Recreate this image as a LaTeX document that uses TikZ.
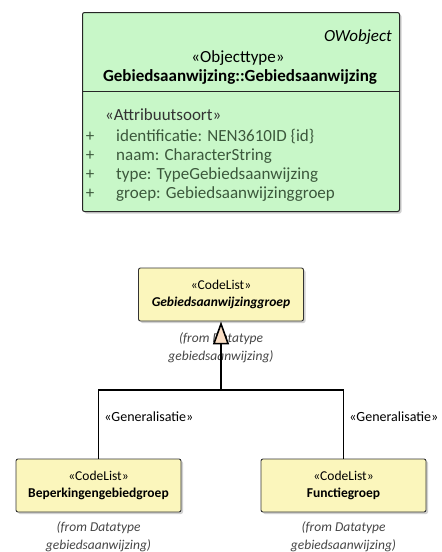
\documentclass[tikz,border=0pt]{standalone}
\usepackage{fontspec}
\setmainfont{Carlito}
\usetikzlibrary{positioning,arrows.meta,shadows}
\definecolor{owgreen}{RGB}{200,247,200}
\definecolor{clyellow}{RGB}{251,246,188}
\definecolor{attrtxt}{RGB}{60,88,60}
\definecolor{fromtxt}{RGB}{70,70,70}
\definecolor{genfill}{RGB}{250,222,196}

\begin{document}
\begin{tikzpicture}[x=1pt,y=-1pt,
  boxshadow/.style={drop shadow={shadow xshift=2pt, shadow yshift=-2pt, opacity=0.18, fill=black}},
  objbox/.style={draw=black!85, line width=1pt, fill=owgreen, rounded corners=2pt, boxshadow},
  clbox/.style={draw=black!80, line width=0.9pt, fill=clyellow, rounded corners=2pt, boxshadow,
    minimum width=165pt, minimum height=53pt, align=center, inner sep=0pt,
    font=\fontsize{13.5}{17}\selectfont},
  hdr/.style={font=\fontsize{17}{19}\selectfont, inner sep=0pt},
  attr/.style={font=\fontsize{17}{19}\selectfont, text=attrtxt, inner sep=0pt, anchor=west},
  fromlbl/.style={font=\fontsize{13.5}{18.5}\selectfont\itshape, text=fromtxt, align=center, inner sep=0pt},
  genline/.style={line width=1.6pt, black},
  genlbl/.style={font=\fontsize{14}{16}\selectfont, anchor=west, inner sep=0pt, xshift=5pt}]
\useasboundingbox (0,0) rectangle (442,552);

% objecttype Gebiedsaanwijzing
\node[objbox, minimum width=317pt, minimum height=199pt, anchor=north west] (gebobj) at (82,12) {};
\node[hdr, anchor=east, font=\fontsize{17}{19}\selectfont\itshape] (owobj) at (392,37) {OWobject};
\node[hdr] (objtype) at (238,58) {«Objecttype»};
\node[hdr, font=\fontsize{17}{19}\selectfont\bfseries] (objname) at (240,77) {Gebiedsaanwijzing::Gebiedsaanwijzing};
\coordinate (sepl) at (82,91);
\coordinate (sepr) at (399,91);
\draw[line width=1pt, black!85] (sepl) -- (sepr);
\node[attr, text=black!80] (attrsoort) at (105,115) {«Attribuutsoort»};
\foreach \i/\y/\txt in {1/137/{identificatie: NEN3610ID \{id\}},
                        2/156/{naam: CharacterString},
                        3/175/{type: TypeGebiedsaanwijzing},
                        4/194/{groep: Gebiedsaanwijzinggroep}}
{
  \node[attr, anchor=center] (plus\i) at (90,\y) {+};
  \node[attr] (attr\i) at (116,\y) {\txt};
}

% codelists
\node[clbox] (groep) at (221,294.5) {«CodeList»\\\textbf{\textit{Gebiedsaanwijzinggroep}}};
\node[clbox] (beperk) at (98.5,485.5) {«CodeList»\\\textbf{Beperkingengebiedgroep}};
\node[clbox] (functie) at (343.5,485.5) {«CodeList»\\\textbf{Functiegroep}};

\node[fromlbl] (groepfrom) at ([yshift=-26.5pt]groep.south) {(from Datatype\\gebiedsaanwijzing)};
\node[fromlbl] (beperkfrom) at ([yshift=-24.5pt]beperk.south) {(from Datatype\\gebiedsaanwijzing)};
\node[fromlbl] (functiefrom) at ([yshift=-24.5pt]functie.south) {(from Datatype\\gebiedsaanwijzing)};

% generalisaties
\coordinate (split) at (221,390);
\coordinate (lbend) at (beperk.north |- split);
\coordinate (rbend) at (functie.north |- split);
\draw[genline] (beperk.north) -- node[genlbl, pos=0.61] {«Generalisatie»} (lbend) -- (rbend)
  -- node[genlbl, pos=0.39] {«Generalisatie»} (functie.north);
\draw[genline, -{Triangle[open, fill=genfill, length=23pt, width=16pt]}] (split) -- (groep.south);
\end{tikzpicture}
\end{document}
